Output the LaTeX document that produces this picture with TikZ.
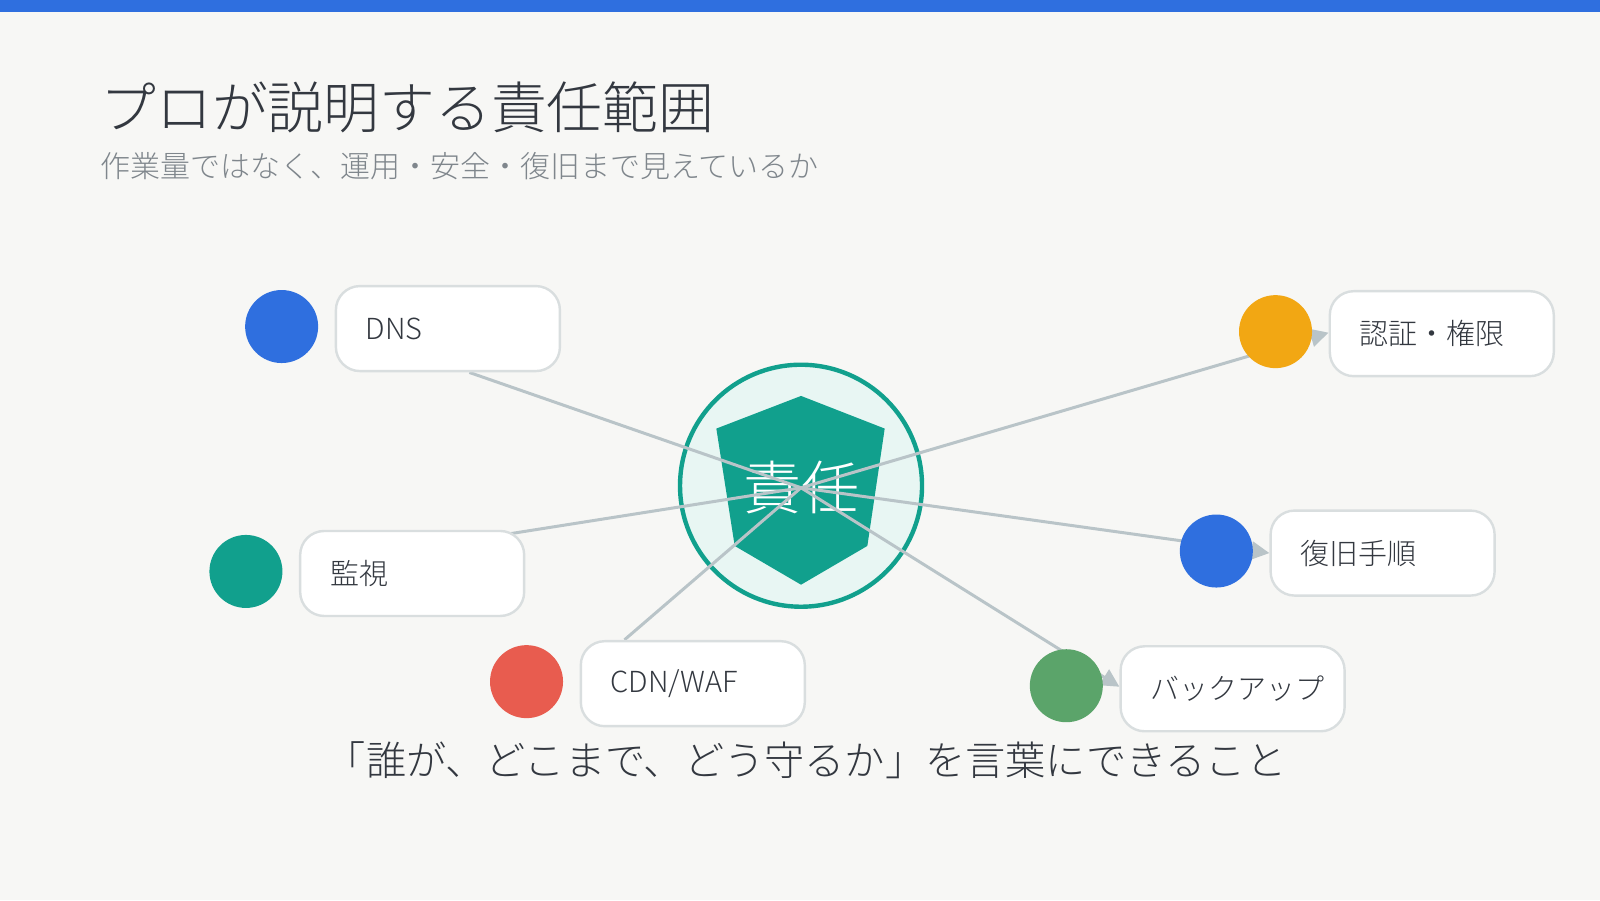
\documentclass[tikz,border=0pt]{standalone}
\usepackage{fontspec}
\setmainfont{Noto Sans CJK JP}[UprightFont=* Light]
\usetikzlibrary{arrows.meta}
\definecolor{bg}{HTML}{F7F7F5}
\definecolor{topbar}{HTML}{2F6FDF}
\definecolor{teal}{HTML}{11A08D}
\definecolor{lightteal}{HTML}{E8F6F3}
\definecolor{link}{HTML}{B9C4C8}
\definecolor{boxline}{HTML}{D9DEDF}
\definecolor{ink}{HTML}{333840}
\definecolor{subgray}{HTML}{7F868C}
\definecolor{dotblue}{HTML}{2F6FDF}
\definecolor{dotorange}{HTML}{F2A713}
\definecolor{dotred}{HTML}{E85C4F}
\definecolor{dotgreen}{HTML}{5BA46A}
\tikzset{
  dot/.style={circle,minimum size=36.5pt,inner sep=0pt},
  item/.style={draw=boxline,line width=1.2pt,fill=white,rounded corners=12pt,minimum width=112pt,minimum height=42.5pt,text width=82pt,inner xsep=15pt,align=left,font=\fontsize{14.5}{16}\selectfont,text=ink},
  link/.style={draw=link,line width=1.5pt},
  linkarrow/.style={link,-{Triangle[length=9pt,width=9pt]}}
}
\begin{document}
\begin{tikzpicture}[x=0.5102pt,y=-0.5102pt]
\useasboundingbox (0,0) rectangle (1568,882);
\fill[bg] (0,0) rectangle (1568,882);
\fill[topbar] (0,0) rectangle (1568,12);

% titles
\node[anchor=west,inner sep=0pt,font=\fontsize{27.9}{32}\selectfont,text=ink] (title) at (98,105) {プロが説明する責任範囲};
\node[anchor=west,inner sep=0pt,font=\fontsize{15}{18}\selectfont,text=subgray] (subtitle) at (98,163) {作業量ではなく、運用・安全・復旧まで見えているか};

% hub
\node[circle,draw=teal,line width=2.2pt,fill=lightteal,minimum size=121pt] (hub) at (785,476) {};
\fill[teal] (785,388) -- (867,420) -- (850,535) -- (785,573) -- (720,535) -- (702,420) -- cycle;
\node[font=\fontsize{29}{32}\selectfont,text=white] (hubtext) at (785,478) {責任};
\coordinate (c) at (785,478);

% links
\coordinate (dnsend) at (460,365);
\coordinate (monend) at (500,523);
\coordinate (cdnend) at (612,627);
\draw[link] (c) -- (dnsend);
\draw[link] (c) -- (monend);
\draw[link] (c) -- (cdnend);
\draw[linkarrow] (c) -- (1302,326) coordinate (authend);
\draw[linkarrow] (c) -- (1244,542) coordinate (recend);
\draw[linkarrow] (c) -- (1097,673) coordinate (bakend);

% items
\node[dot,fill=dotblue] (dnsdot) at (276,320) {};
\node[item,anchor=west] (dns) at (328,322) {DNS};
\node[dot,fill=dotorange] (authdot) at (1250,325) {};
\node[item,anchor=west] (auth) at (1302,327) {認証・権限};
\node[dot,fill=teal] (mondot) at (241,560) {};
\node[item,anchor=west] (mon) at (293,562) {監視};
\node[dot,fill=dotblue] (recdot) at (1192,540) {};
\node[item,anchor=west] (rec) at (1244,542) {復旧手順};
\node[dot,fill=dotred] (cdndot) at (516,668) {};
\node[item,anchor=west] (cdn) at (568,670) {CDN/WAF};
\node[dot,fill=dotgreen] (bakdot) at (1045,672) {};
\node[item,anchor=west] (bak) at (1097,675) {バックアップ};

\node[font=\fontsize{20.1}{24}\selectfont,text=ink] (motto) at (790,745) {「誰が、どこまで、どう守るか」を言葉にできること};
\end{tikzpicture}
\end{document}
